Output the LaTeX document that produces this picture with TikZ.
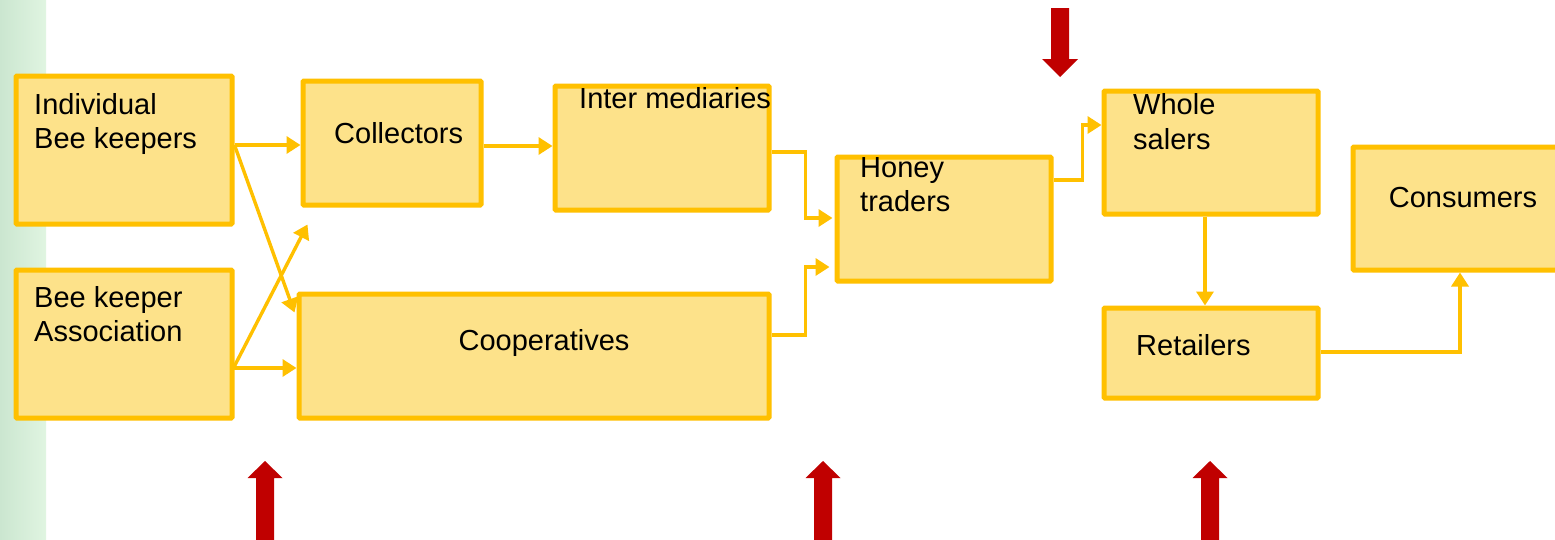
\documentclass[tikz,border=0pt]{standalone}
\usepackage{fontspec}
\setmainfont{Liberation Sans}
\usetikzlibrary{arrows.meta,calc}
\definecolor{gold}{HTML}{FFC000}
\definecolor{boxfill}{HTML}{FDE28A}
\definecolor{darkred}{HTML}{C00000}
\definecolor{stripL}{HTML}{CBE6D0}
\definecolor{stripR}{HTML}{E0F5E1}
\begin{document}
\begin{tikzpicture}[x=1pt,y=-1pt,
  box/.style={draw=gold, fill=boxfill, line width=5pt, rounded corners=1pt, inner sep=0pt},
  lbl/.style={inner sep=0pt, font=\fontsize{29}{34}\selectfont, text=black},
  conn/.style={draw=gold, line width=3.4pt, -{Triangle[length=14pt,width=17pt]}},
  redarrow/.style={fill=darkred}]
\useasboundingbox (0,0) rectangle (1555,539);
\clip (0,0) rectangle (1555,539);
\fill[white] (0,0) rectangle (1555,539);
\shade[left color=stripL,right color=stripR] (0,0) rectangle (46,539);

% boxes
\node[box, minimum width=216pt, minimum height=148pt] (ibk) at (124,150) {};
\node[box, minimum width=216pt, minimum height=148pt] (bka) at (124,344) {};
\node[box, minimum width=178pt, minimum height=124pt] (col) at (392,143) {};
\node[box, minimum width=214pt, minimum height=124pt] (int) at (662,148) {};
\node[box, minimum width=470pt, minimum height=124pt] (coop) at (534,356) {};
\node[box, minimum width=214pt, minimum height=124pt] (hon) at (944,219) {};
\node[box, minimum width=214pt, minimum height=123pt] (who) at (1211,152.5) {};
\node[box, minimum width=214pt, minimum height=90pt] (ret) at (1211,353) {};
\node[box, minimum width=212pt, minimum height=123pt] (con) at (1459,208.5) {};

% labels
\node[lbl, anchor=base west] (t1a) at (34,114) {Individual};
\node[lbl, anchor=base west] (t1b) at (34,148) {Bee keepers};
\node[lbl, anchor=base west] (t2a) at (34,307) {Bee keeper};
\node[lbl, anchor=base west] (t2b) at (34,341) {Association};
\node[lbl, anchor=base west] (t3) at (334,143) {Collectors};
\node[lbl, anchor=base west] (t4) at (579,108) {Inter mediaries};
\node[lbl, anchor=base] (t5) at (544,350) {Cooperatives};
\node[lbl, anchor=base west] (t6a) at (860,177) {Honey};
\node[lbl, anchor=base west] (t6b) at (860,211) {traders};
\node[lbl, anchor=base west] (t7a) at (1133,114) {Whole};
\node[lbl, anchor=base west] (t7b) at (1133,149) {salers};
\node[lbl, anchor=base] (t8) at (1463,207) {Consumers};
\node[lbl, anchor=base west] (t9) at (1136,355) {Retailers};

% connectors
\coordinate (free) at ($(col.south west)+(7,17)$);
\draw[conn] ($(ibk.east)+(0,-5)$) -- ($(col.west)+(0,2)$);
\draw[conn] ($(ibk.east)+(0,-5)$) -- ($(coop.north west)+(-2,21)$);
\draw[conn] ($(bka.east)+(-2,24)$) -- ($(coop.west)+(0,12)$);
\draw[conn] ($(bka.east)+(0,22)$) -- (free);
\draw[conn] ($(col.east)+(0,3)$) -- ($(int.west)+(0,-2)$);
\draw[conn] ($(int.east)+(0,4)$) -- ++(34,0) |- ($(hon.west)+(-2,-1)$);
\draw[conn] ($(coop.east)+(0,-21)$) -- ++(34,0) |- ($(hon.west)+(-5,48)$);
\draw[conn] ($(hon.east)+(0,-39)$) -- ++(29,0) |- ($(who.west)+(0,-27.5)$);
\draw[conn] ($(who.south)+(-6,0)$) -- ($(ret.north)+(-6,0)$);
\draw[conn] ($(ret.east)+(0,-1)$) -| ($(con.south)+(1,0)$);

% red block arrows
\fill[redarrow] (1051,8) -- (1069,8) -- (1069,59) -- (1078,59) -- (1060,77) -- (1042,59) -- (1051,59) -- cycle;
\foreach \cx in {265,823,1210}{
  \fill[redarrow] (\cx-9,540) -- (\cx-9,478) -- (\cx-17.5,478) -- (\cx,461) -- (\cx+17.5,478) -- (\cx+9,478) -- (\cx+9,540) -- cycle;
}
\end{tikzpicture}
\end{document}
